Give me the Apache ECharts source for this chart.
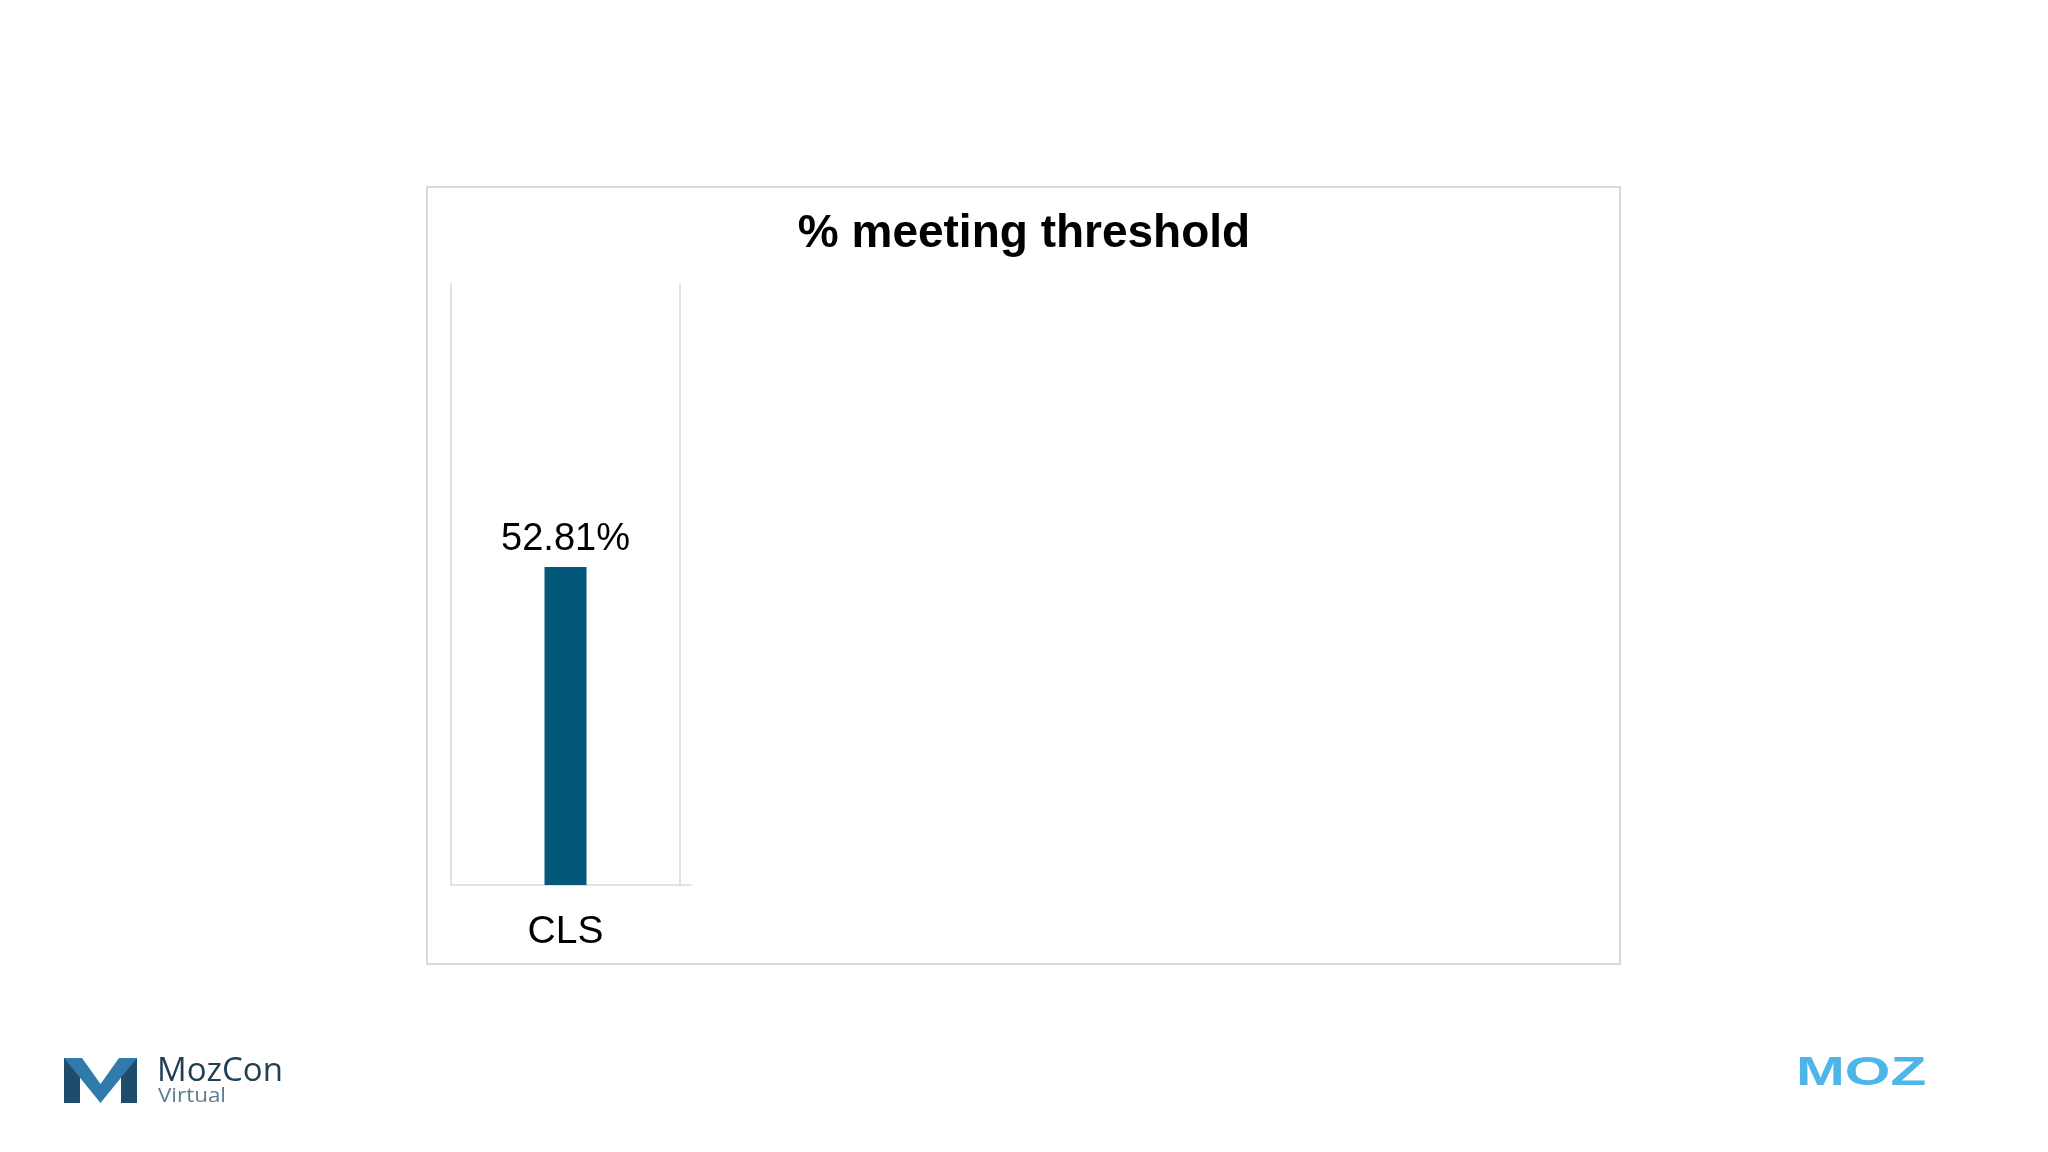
<!DOCTYPE html>
<html><head><meta charset="utf-8">
<script src="https://cdn.jsdelivr.net/npm/echarts@6.0.0/dist/echarts.min.js"></script>
<style>html,body{margin:0;padding:0;background:#fff}#c{width:2048px;height:1152px}</style>
</head><body><div id="c"></div>
<script>
const categories = ['CLS'];
const values = [52.81];
const titleText = '% meeting threshold';
const yMin = 0;
const yMax = 100;

const chart = echarts.init(document.getElementById('c'));
const font = '"Liberation Sans", Arial, sans-serif';
chart.setOption({
  backgroundColor: '#ffffff',
  animation: false,
  title: {
    text: titleText, left: 'center', top: 206,
    textStyle: { fontFamily: font, fontSize: 46, fontWeight: 'bold', color: '#000' }
  },
  grid: [
    { left: 451, top: 283, width: 229, height: 602 },
    { left: 451, top: 283, width: 240, height: 602 }
  ],
  xAxis: [
    { type: 'category', gridIndex: 0, data: categories, boundaryGap: true,
      axisLine: { show: false }, axisTick: { show: false },
      axisLabel: { fontFamily: font, fontSize: 39, color: '#000', margin: 28 },
      splitLine: { show: true, interval: 0, lineStyle: { color: '#d9d9d9', width: 1.5 } } },
    { type: 'category', gridIndex: 1, data: [''],
      axisLine: { show: true, lineStyle: { color: '#d9d9d9', width: 1.5 } },
      axisTick: { show: false }, axisLabel: { show: false }, splitLine: { show: false } }
  ],
  yAxis: [
    { type: 'value', gridIndex: 0, min: yMin, max: yMax, show: false },
    { type: 'value', gridIndex: 1, min: yMin, max: yMax, show: false }
  ],
  series: [{
    type: 'bar', xAxisIndex: 0, yAxisIndex: 0, data: values, barWidth: 42,
    itemStyle: { color: '#03587A' },
    label: { show: true, position: 'top', distance: 9, fontFamily: font, fontSize: 38, color: '#000',
      formatter: p => p.value.toFixed(2) + '%' }
  }],
  graphic: [
    { type: 'rect', shape: { x: 427, y: 187, width: 1193, height: 777 },
      style: { fill: 'none', stroke: '#d9d9d9', lineWidth: 2 }, z: -1 },
    // MozCon logo icon
    { type: 'polygon', shape: { points: [[64,1058],[80,1058],[80,1103],[64,1103]] }, style: { fill: '#1e4d6b' } },
    { type: 'polygon', shape: { points: [[121,1058],[137,1058],[137,1103],[121,1103]] }, style: { fill: '#1e4d6b' } },
    { type: 'polygon', shape: { points: [[64,1058],[82,1058],[100.5,1084],[119,1058],[137,1058],[100.5,1103]] }, style: { fill: '#2f7bab' } },
    { type: 'text', x: 157, y: 1055, style: { text: 'MozCon', font: '500 33px "Open Sans", sans-serif', fill: '#1f3f52' } },
    { type: 'text', x: 158, y: 1086, scaleX: 1.12, style: { text: 'Virtual', font: '400 20px "Open Sans", sans-serif', fill: '#5a7d93' } },
    // MOZ logo
    { type: 'text', x: 1796, y: 1053, scaleX: 1.43, style: { text: 'MOZ', font: '900 41px "Liberation Sans", Arial, sans-serif', fill: '#4db5e7' } }
  ]
});
</script></body></html>
